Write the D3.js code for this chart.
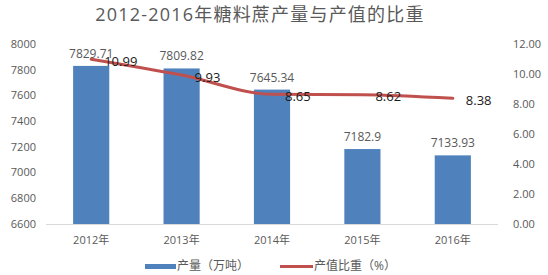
<!DOCTYPE html>
<html>
<head>
<meta charset="utf-8">
<script src="https://cdn.jsdelivr.net/npm/d3@7"></script>
<style>
  body { margin: 0; background: #fff; }
  text { font-family: "Open Sans", "Noto Sans CJK SC", sans-serif; }
</style>
</head>
<body>
<div id="chart"></div>
<script>
const years = ["2012年", "2013年", "2014年", "2015年", "2016年"];
const output = [7829.71, 7809.82, 7645.34, 7182.9, 7133.93];
const share = [10.99, 9.93, 8.65, 8.62, 8.38];
const left_ticks = [6600, 6800, 7000, 7200, 7400, 7600, 7800, 8000];
const right_ticks = [0, 2, 4, 6, 8, 10, 12];

const W = 548, H = 275;
const svg = d3.select("#chart").append("svg")
  .attr("width", W).attr("height", H);

const x = d3.scaleBand().domain(years).range([46, 498]).paddingInner(0.6).paddingOuter(0.3);
const y = d3.scaleLinear().domain([6600, 8000]).range([224, 44]);
const y2 = d3.scaleLinear().domain([0, 12]).range([224, 44]);

const grey = "#595959";

svg.append("text")
  .attr("x", 260).attr("y", 21)
  .attr("text-anchor", "middle")
  .attr("font-size", 18).attr("fill", grey)
  .attr("letter-spacing", 1.2)
  .text("2012-2016年糖料蔗产量与产值的比重");

// left axis
svg.append("g").selectAll("text")
  .data(left_ticks).join("text")
  .attr("x", 36).attr("y", d => y(d))
  .attr("dy", "0.35em").attr("text-anchor", "end")
  .attr("font-size", 11).attr("fill", grey)
  .text(d => d);

// right axis
svg.append("g").selectAll("text")
  .data(right_ticks).join("text")
  .attr("x", 513).attr("y", d => y2(d))
  .attr("dy", "0.35em").attr("text-anchor", "start")
  .attr("font-size", 11).attr("fill", grey)
  .text(d => d.toFixed(2));

// bars
svg.append("g").selectAll("rect")
  .data(output).join("rect")
  .attr("x", (d, i) => x(years[i]))
  .attr("width", x.bandwidth())
  .attr("y", d => y(d))
  .attr("height", d => y(6600) - y(d))
  .attr("fill", "#4F81BD");

svg.append("line")
  .attr("x1", 46).attr("x2", 498)
  .attr("y1", 224.5).attr("y2", 224.5)
  .attr("stroke", "#D9D9D9").attr("stroke-width", 1);

svg.append("g").selectAll("text")
  .data(output).join("text")
  .attr("x", (d, i) => x(years[i]) + x.bandwidth() / 2)
  .attr("y", d => y(d) - 8)
  .attr("text-anchor", "middle")
  .attr("font-size", 12).attr("fill", grey)
  .text(d => d);

// x labels
svg.append("g").selectAll("text")
  .data(years).join("text")
  .attr("x", d => x(d) + x.bandwidth() / 2)
  .attr("y", 240).attr("dy", "0.35em")
  .attr("text-anchor", "middle")
  .attr("font-size", 11).attr("fill", grey)
  .text(d => d);

// line
const cx = i => x(years[i]) + x.bandwidth() / 2;
const line = d3.line()
  .x((d, i) => cx(i))
  .y(d => y2(d))
  .curve(d3.curveMonotoneX);

svg.append("path")
  .datum(share)
  .attr("d", line)
  .attr("fill", "none")
  .attr("stroke", "#C0504D")
  .attr("stroke-width", 3)
  .attr("stroke-linecap", "round");

svg.append("g").selectAll("text")
  .data(share).join("text")
  .attr("x", (d, i) => cx(i) + 13)
  .attr("y", d => y2(d) + 2)
  .attr("dy", "0.35em")
  .attr("font-size", 13).attr("fill", "#1a1a1a")
  .text(d => d.toFixed(2));

// legend
const lg = svg.append("g");
lg.append("rect").attr("x", 145).attr("y", 264).attr("width", 31).attr("height", 5).attr("fill", "#4F81BD");
lg.append("text").attr("x", 177).attr("y", 266).attr("dy", "0.35em")
  .attr("font-size", 12).attr("fill", grey).text("产量（万吨）");
lg.append("line").attr("x1", 280).attr("x2", 313).attr("y1", 266.5).attr("y2", 266.5)
  .attr("stroke", "#C0504D").attr("stroke-width", 3);
lg.append("text").attr("x", 314).attr("y", 266).attr("dy", "0.35em")
  .attr("font-size", 12).attr("fill", grey).text("产值比重（%）");
</script>
</body>
</html>
